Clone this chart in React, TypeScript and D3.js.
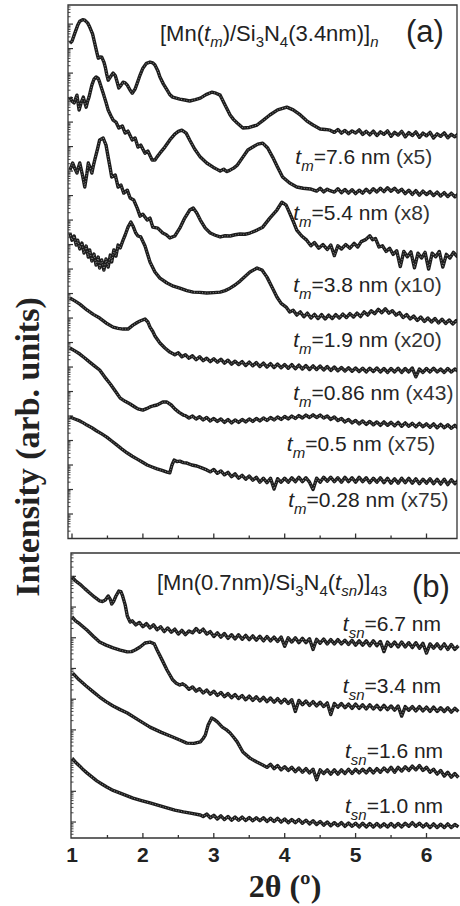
import * as d3 from 'd3';

type Pt = [number, number]; // [2θ (deg), log10 intensity (arb.)]

// panel (a): [Mn(tm)/Si3N4(3.4nm)]n
const tm76: Pt[] = [
  [0.97, 20.22], [1.0, 20.3], [1.04, 20.63], [1.08, 20.95], [1.11, 21.12], [1.15, 21.18], [1.18, 21.16], [1.22, 21.05],
  [1.25, 20.88], [1.29, 20.6], [1.32, 20.22], [1.35, 19.85], [1.37, 19.61], [1.4, 19.66], [1.42, 19.65], [1.45, 19.45],
  [1.47, 19.24], [1.49, 18.95], [1.51, 18.71], [1.55, 18.88], [1.58, 19.0], [1.61, 18.9], [1.63, 18.71], [1.66, 18.39],
  [1.69, 18.5], [1.72, 18.63], [1.75, 18.6], [1.78, 18.51], [1.82, 18.3], [1.85, 18.18], [1.89, 18.35], [1.92, 18.59],
  [1.96, 18.92], [2.0, 19.2], [2.05, 19.4], [2.1, 19.45], [2.14, 19.42], [2.17, 19.33], [2.21, 19.1], [2.24, 18.84],
  [2.29, 18.55], [2.34, 18.31], [2.38, 18.12], [2.42, 18.02], [2.47, 17.98], [2.52, 17.94], [2.59, 17.9], [2.66, 17.86],
  [2.74, 17.92], [2.81, 17.98], [2.89, 18.12], [2.97, 18.22], [3.03, 18.18], [3.09, 18.1], [3.16, 17.69], [3.23, 17.29],
  [3.28, 17.1], [3.33, 16.96], [3.41, 16.76], [3.5, 16.78], [3.61, 16.88], [3.7, 17.08], [3.79, 17.29], [3.9, 17.5],
  [4.03, 17.61], [4.12, 17.5], [4.22, 17.29], [4.31, 17.05], [4.4, 16.88], [4.5, 16.72], [4.57, 16.7], [4.64, 16.67],
  [4.7, 16.58], [4.75, 16.7], [4.8, 16.55], [4.85, 16.66], [4.9, 16.52], [4.95, 16.64], [5.0, 16.55], [5.05, 16.68],
  [5.1, 16.5], [5.15, 16.62], [5.2, 16.48], [5.25, 16.63], [5.3, 16.45], [5.35, 16.6], [5.4, 16.5], [5.45, 16.64],
  [5.5, 16.42], [5.55, 16.58], [5.6, 16.47], [5.65, 16.62], [5.7, 16.4], [5.75, 16.57], [5.8, 16.45], [5.85, 16.6],
  [5.9, 16.38], [5.95, 16.55], [6.0, 16.44], [6.05, 16.58], [6.1, 16.35], [6.15, 16.52], [6.2, 16.42], [6.25, 16.56],
  [6.3, 16.36], [6.35, 16.5], [6.4, 16.4], [6.45, 16.52],
];

const tm54: Pt[] = [
  [0.97, 18.02], [1.0, 17.85], [1.03, 17.78], [1.05, 17.95], [1.07, 18.1], [1.1, 17.49], [1.13, 17.8], [1.16, 18.02],
  [1.18, 17.8], [1.2, 17.61], [1.22, 17.85], [1.24, 18.02], [1.28, 18.51], [1.31, 18.75], [1.34, 18.84], [1.37, 18.78],
  [1.39, 18.63], [1.44, 18.18], [1.48, 17.8], [1.51, 17.49], [1.55, 17.25], [1.58, 17.08], [1.62, 17.0], [1.66, 16.76],
  [1.71, 16.84], [1.75, 16.55], [1.79, 16.63], [1.85, 16.27], [1.89, 16.35], [1.93, 15.98], [1.97, 16.06], [2.03, 15.73],
  [2.07, 15.82], [2.13, 15.45], [2.17, 15.45], [2.2, 15.58], [2.24, 15.73], [2.31, 15.98], [2.38, 16.27], [2.45, 16.51],
  [2.5, 16.62], [2.55, 16.67], [2.61, 16.55], [2.66, 16.27], [2.73, 15.9], [2.81, 15.57], [2.9, 15.33], [2.99, 15.16],
  [3.04, 15.08], [3.09, 15.0], [3.14, 15.08], [3.18, 14.98], [3.23, 15.04], [3.28, 15.12], [3.33, 15.24], [3.41, 15.57],
  [3.48, 15.86], [3.55, 15.98], [3.62, 16.1], [3.69, 16.14], [3.76, 15.94], [3.83, 15.57], [3.9, 15.16], [3.97, 14.76],
  [4.07, 14.51], [4.17, 14.35], [4.26, 14.3], [4.36, 14.27], [4.45, 14.18], [4.5, 14.3], [4.55, 14.15], [4.6, 14.26],
  [4.64, 14.2], [4.7, 14.14], [4.75, 14.28], [4.8, 14.12], [4.85, 14.25], [4.9, 14.1], [4.95, 14.24], [5.0, 14.08],
  [5.05, 14.22], [5.1, 14.1], [5.15, 14.26], [5.2, 14.12], [5.25, 14.28], [5.3, 14.15], [5.35, 14.3], [5.4, 14.16],
  [5.45, 14.32], [5.5, 14.18], [5.55, 14.3], [5.6, 14.14], [5.65, 14.26], [5.7, 14.08], [5.75, 14.22], [5.8, 14.05],
  [5.85, 14.2], [5.9, 14.02], [5.95, 14.18], [6.0, 14.04], [6.05, 14.16], [6.1, 14.0], [6.15, 14.14], [6.2, 13.98],
  [6.25, 14.12], [6.3, 13.96], [6.35, 14.1], [6.4, 13.95], [6.45, 14.06],
];

const tm38: Pt[] = [
  [0.97, 15.04], [1.01, 15.33], [1.04, 15.1], [1.07, 14.92], [1.09, 15.15], [1.11, 15.33], [1.15, 14.8], [1.18, 14.35],
  [1.21, 14.9], [1.23, 15.33], [1.26, 15.1], [1.28, 14.92], [1.3, 15.2], [1.32, 15.45], [1.36, 15.9], [1.39, 16.27],
  [1.44, 16.35], [1.48, 16.06], [1.51, 15.57], [1.54, 15.1], [1.56, 14.76], [1.61, 14.84], [1.65, 14.35], [1.69, 14.43],
  [1.73, 14.1], [1.78, 14.22], [1.82, 13.9], [1.87, 13.82], [1.92, 13.49], [1.96, 13.16], [2.0, 13.24], [2.06, 13.0],
  [2.1, 13.08], [2.14, 12.71], [2.21, 12.67], [2.28, 12.47], [2.33, 12.4], [2.38, 12.27], [2.45, 12.35], [2.52, 12.67],
  [2.59, 13.08], [2.66, 13.41], [2.71, 13.49], [2.76, 13.29], [2.81, 13.0], [2.88, 12.67], [2.95, 12.47], [3.02, 12.38],
  [3.09, 12.31], [3.16, 12.36], [3.23, 12.35], [3.3, 12.4], [3.37, 12.43], [3.44, 12.42], [3.51, 12.47], [3.61, 12.59],
  [3.69, 12.71], [3.79, 13.08], [3.89, 13.41], [3.96, 13.73], [4.02, 13.61], [4.07, 13.29], [4.12, 12.95], [4.17, 12.59],
  [4.24, 12.35], [4.31, 12.18], [4.37, 11.95], [4.42, 12.08], [4.48, 11.85], [4.54, 12.0], [4.6, 11.8], [4.65, 11.98],
  [4.7, 11.55], [4.75, 11.95], [4.8, 11.82], [4.86, 12.0], [4.92, 11.85], [4.98, 12.05], [5.03, 11.9], [5.08, 12.12],
  [5.14, 12.2], [5.2, 12.36], [5.24, 12.2], [5.28, 12.25], [5.33, 11.9], [5.38, 11.95], [5.43, 11.72], [5.48, 11.85],
  [5.53, 11.6], [5.58, 11.75], [5.63, 11.1], [5.68, 11.72], [5.73, 11.5], [5.78, 11.7], [5.83, 11.05], [5.88, 11.65],
  [5.93, 11.45], [5.98, 11.68], [6.03, 11.0], [6.08, 11.65], [6.13, 11.5], [6.18, 11.72], [6.23, 11.08], [6.28, 11.6],
  [6.33, 11.45], [6.38, 11.68], [6.43, 11.52], [6.47, 11.62],
];

const tm19: Pt[] = [
  [0.97, 12.47], [1.0, 12.18], [1.03, 12.35], [1.06, 11.98], [1.08, 12.18], [1.11, 11.82], [1.14, 12.06], [1.17, 11.65],
  [1.2, 11.94], [1.23, 11.49], [1.25, 11.78], [1.28, 11.33], [1.31, 11.61], [1.34, 11.16], [1.37, 11.49], [1.39, 11.04],
  [1.42, 11.37], [1.45, 10.96], [1.48, 11.41], [1.51, 11.08], [1.54, 11.57], [1.56, 11.29], [1.59, 11.78], [1.62, 11.53],
  [1.65, 11.98], [1.68, 11.86], [1.72, 12.18], [1.75, 12.39], [1.79, 12.71], [1.83, 12.92], [1.86, 12.76], [1.9, 12.47],
  [1.93, 12.35], [1.97, 12.31], [2.03, 11.94], [2.1, 11.29], [2.17, 10.88], [2.24, 10.63], [2.34, 10.43], [2.43, 10.3],
  [2.52, 10.22], [2.62, 10.12], [2.71, 10.06], [2.8, 10.05], [2.9, 10.02], [3.0, 10.04], [3.09, 10.06], [3.16, 10.12],
  [3.23, 10.22], [3.3, 10.35], [3.37, 10.51], [3.44, 10.7], [3.51, 10.88], [3.61, 11.04], [3.68, 10.96], [3.75, 10.67],
  [3.82, 10.27], [3.89, 9.86], [3.95, 9.6], [4.02, 9.45], [4.07, 9.25], [4.12, 9.32], [4.17, 9.12], [4.22, 9.25],
  [4.27, 9.05], [4.32, 9.2], [4.37, 9.0], [4.42, 9.15], [4.47, 8.98], [4.52, 9.14], [4.57, 8.96], [4.62, 9.12],
  [4.67, 8.98], [4.72, 9.14], [4.77, 9.0], [4.82, 9.16], [4.87, 9.02], [4.92, 9.18], [4.97, 9.04], [5.02, 9.2],
  [5.07, 9.06], [5.12, 9.25], [5.17, 9.12], [5.22, 9.3], [5.27, 9.18], [5.32, 9.36], [5.37, 9.22], [5.42, 9.38],
  [5.47, 9.2], [5.52, 9.3], [5.57, 9.12], [5.62, 9.22], [5.67, 9.02], [5.72, 9.14], [5.77, 8.96], [5.82, 9.08],
  [5.87, 8.9], [5.92, 9.04], [5.97, 8.86], [6.02, 9.0], [6.07, 8.84], [6.12, 8.98], [6.17, 8.8], [6.22, 8.95],
  [6.27, 8.78], [6.32, 8.92], [6.37, 8.76], [6.42, 8.9], [6.47, 8.8],
];

const tm086: Pt[] = [
  [0.97, 9.82], [1.04, 9.7], [1.11, 9.57], [1.21, 9.33], [1.3, 9.15], [1.39, 9.0], [1.48, 8.8], [1.58, 8.63],
  [1.65, 8.58], [1.72, 8.55], [1.79, 8.55], [1.86, 8.71], [1.92, 8.82], [1.96, 8.88], [2.03, 8.96], [2.07, 8.84],
  [2.1, 8.63], [2.14, 8.45], [2.17, 8.27], [2.24, 7.98], [2.31, 7.78], [2.38, 7.61], [2.45, 7.5], [2.5, 7.58],
  [2.55, 7.42], [2.6, 7.5], [2.65, 7.36], [2.7, 7.46], [2.75, 7.3], [2.8, 7.42], [2.85, 7.26], [2.9, 7.36],
  [2.95, 7.22], [3.0, 7.34], [3.05, 7.2], [3.1, 7.32], [3.15, 7.16], [3.2, 7.28], [3.25, 7.12], [3.3, 7.24],
  [3.35, 7.1], [3.4, 7.22], [3.45, 7.06], [3.5, 7.2], [3.55, 7.05], [3.6, 7.18], [3.65, 7.02], [3.7, 7.16],
  [3.75, 7.0], [3.8, 7.14], [3.85, 6.98], [3.9, 7.12], [3.95, 6.97], [4.0, 7.1], [4.05, 6.95], [4.1, 7.1],
  [4.15, 6.93], [4.2, 7.08], [4.25, 6.92], [4.3, 7.06], [4.35, 6.9], [4.4, 7.05], [4.45, 6.9], [4.5, 7.04],
  [4.55, 6.88], [4.6, 7.02], [4.65, 6.86], [4.7, 7.0], [4.75, 6.85], [4.8, 6.98], [4.85, 6.84], [4.9, 6.97],
  [4.95, 6.83], [5.0, 6.96], [5.05, 6.82], [5.1, 6.95], [5.15, 6.8], [5.2, 6.95], [5.25, 6.82], [5.3, 6.96],
  [5.35, 6.8], [5.4, 6.94], [5.45, 6.78], [5.5, 6.94], [5.55, 6.8], [5.6, 6.95], [5.65, 6.78], [5.7, 6.94],
  [5.75, 6.8], [5.8, 6.96], [5.85, 6.6], [5.9, 6.92], [5.95, 6.78], [6.0, 6.94], [6.05, 6.8], [6.1, 6.95],
  [6.15, 6.8], [6.2, 6.92], [6.25, 6.78], [6.3, 6.94], [6.35, 6.8], [6.4, 6.92], [6.45, 6.82],
];

const tm05: Pt[] = [
  [0.97, 7.78], [1.04, 7.66], [1.11, 7.53], [1.18, 7.37], [1.25, 7.2], [1.32, 7.04], [1.39, 6.88], [1.46, 6.6],
  [1.54, 6.31], [1.61, 6.02], [1.68, 5.73], [1.75, 5.6], [1.82, 5.49], [1.88, 5.38], [1.93, 5.29], [2.0, 5.24],
  [2.05, 5.3], [2.1, 5.37], [2.15, 5.42], [2.2, 5.45], [2.28, 5.57], [2.34, 5.57], [2.4, 5.45], [2.45, 5.29],
  [2.51, 5.15], [2.57, 5.04], [2.6, 5.02], [2.65, 4.92], [2.7, 5.0], [2.75, 4.88], [2.8, 4.97], [2.85, 4.84],
  [2.9, 4.94], [2.95, 4.8], [3.0, 4.9], [3.05, 4.78], [3.1, 4.88], [3.15, 4.74], [3.2, 4.86], [3.25, 4.72],
  [3.3, 4.84], [3.35, 4.74], [3.4, 4.86], [3.45, 4.76], [3.5, 4.88], [3.55, 4.78], [3.6, 4.9], [3.65, 4.8],
  [3.7, 4.92], [3.75, 4.82], [3.8, 4.94], [3.85, 4.84], [3.9, 4.96], [3.95, 4.86], [4.0, 4.98], [4.05, 4.88],
  [4.1, 5.0], [4.15, 4.9], [4.2, 5.02], [4.25, 4.92], [4.3, 5.04], [4.35, 4.94], [4.4, 5.05], [4.45, 4.94],
  [4.5, 5.04], [4.55, 4.92], [4.6, 5.0], [4.65, 4.86], [4.7, 4.96], [4.75, 4.82], [4.8, 4.9], [4.85, 4.76],
  [4.9, 4.86], [4.95, 4.72], [5.0, 4.82], [5.05, 4.68], [5.1, 4.8], [5.15, 4.66], [5.2, 4.78], [5.25, 4.64],
  [5.3, 4.76], [5.35, 4.62], [5.4, 4.76], [5.45, 4.62], [5.5, 4.74], [5.55, 4.6], [5.6, 4.74], [5.65, 4.58],
  [5.7, 4.72], [5.75, 4.58], [5.8, 4.7], [5.85, 4.56], [5.9, 4.7], [5.95, 4.56], [6.0, 4.68], [6.05, 4.54],
  [6.1, 4.68], [6.15, 4.52], [6.2, 4.66], [6.25, 4.52], [6.3, 4.64], [6.35, 4.5], [6.4, 4.62], [6.45, 4.5],
];

const tm028: Pt[] = [
  [0.97, 4.96], [1.04, 4.88], [1.11, 4.8], [1.16, 4.72], [1.21, 4.63], [1.28, 4.52], [1.35, 4.39], [1.42, 4.27],
  [1.49, 4.14], [1.56, 3.98], [1.63, 3.82], [1.7, 3.66], [1.78, 3.49], [1.85, 3.36], [1.92, 3.24], [1.99, 3.12],
  [2.06, 3.0], [2.13, 2.92], [2.2, 2.84], [2.27, 2.78], [2.34, 2.71], [2.38, 2.68], [2.41, 3.0], [2.44, 3.2],
  [2.48, 3.14], [2.52, 3.16], [2.57, 3.1], [2.62, 3.08], [2.69, 3.0], [2.76, 2.96], [2.83, 2.88], [2.9, 2.8],
  [2.95, 2.72], [3.0, 2.82], [3.05, 2.66], [3.1, 2.76], [3.15, 2.6], [3.2, 2.7], [3.25, 2.52], [3.3, 2.64],
  [3.35, 2.46], [3.4, 2.58], [3.45, 2.42], [3.5, 2.55], [3.55, 2.38], [3.6, 2.5], [3.65, 2.3], [3.7, 2.46],
  [3.75, 2.28], [3.8, 2.46], [3.85, 2.02], [3.9, 2.44], [3.95, 2.3], [4.0, 2.46], [4.05, 2.3], [4.1, 2.48],
  [4.15, 2.32], [4.2, 2.5], [4.25, 2.32], [4.3, 2.48], [4.35, 2.3], [4.4, 2.0], [4.45, 2.46], [4.5, 2.3],
  [4.55, 2.5], [4.6, 2.34], [4.65, 2.5], [4.7, 2.32], [4.75, 2.48], [4.8, 2.3], [4.85, 2.5], [4.9, 2.32],
  [4.95, 2.48], [5.0, 2.3], [5.05, 2.5], [5.1, 2.32], [5.15, 2.48], [5.2, 2.28], [5.25, 2.46], [5.3, 2.3],
  [5.35, 2.48], [5.4, 2.28], [5.45, 2.46], [5.5, 2.26], [5.55, 2.44], [5.6, 2.26], [5.65, 2.46], [5.7, 2.28],
  [5.75, 2.46], [5.8, 2.26], [5.85, 2.44], [5.9, 2.24], [5.95, 2.42], [6.0, 2.26], [6.05, 2.44], [6.1, 2.24],
  [6.15, 2.42], [6.2, 2.22], [6.25, 2.42], [6.3, 2.2], [6.35, 2.4], [6.4, 2.24], [6.45, 2.38],
];

// panel (b): [Mn(0.7nm)/Si3N4(tsn)]43
const tsn67: Pt[] = [
  [1.0, 8.98], [1.05, 8.85], [1.11, 8.75], [1.18, 8.6], [1.25, 8.46], [1.32, 8.32], [1.39, 8.2], [1.43, 8.18],
  [1.47, 8.23], [1.51, 8.36], [1.54, 8.25], [1.56, 8.1], [1.59, 8.2], [1.62, 8.36], [1.66, 8.52], [1.69, 8.5],
  [1.71, 8.39], [1.75, 8.07], [1.78, 7.71], [1.82, 7.51], [1.85, 7.55], [1.9, 7.42], [1.95, 7.5], [2.0, 7.36],
  [2.05, 7.46], [2.1, 7.32], [2.15, 7.42], [2.2, 7.26], [2.25, 7.36], [2.3, 7.2], [2.35, 7.32], [2.4, 7.18],
  [2.45, 7.28], [2.5, 7.12], [2.55, 7.24], [2.6, 7.1], [2.65, 7.22], [2.7, 7.16], [2.75, 7.3], [2.8, 7.18],
  [2.85, 7.28], [2.9, 7.12], [2.95, 7.2], [3.0, 7.04], [3.05, 7.16], [3.1, 7.02], [3.15, 7.14], [3.2, 6.98],
  [3.25, 7.1], [3.3, 6.96], [3.35, 7.1], [3.4, 6.95], [3.45, 7.08], [3.5, 6.94], [3.55, 7.06], [3.6, 6.92],
  [3.65, 7.05], [3.7, 6.9], [3.75, 7.04], [3.8, 6.9], [3.85, 7.02], [3.9, 6.88], [3.95, 7.02], [4.0, 6.72],
  [4.05, 7.0], [4.1, 6.86], [4.15, 7.0], [4.2, 6.84], [4.25, 6.98], [4.3, 6.84], [4.35, 6.97], [4.4, 6.62],
  [4.45, 6.95], [4.5, 6.82], [4.55, 6.96], [4.6, 6.8], [4.65, 6.94], [4.7, 6.8], [4.75, 6.94], [4.8, 6.8],
  [4.85, 6.92], [4.9, 6.78], [4.95, 6.92], [5.0, 6.76], [5.05, 6.9], [5.1, 6.76], [5.15, 6.9], [5.2, 6.74],
  [5.25, 6.9], [5.3, 6.74], [5.35, 6.88], [5.4, 6.55], [5.45, 6.86], [5.5, 6.72], [5.55, 6.86], [5.6, 6.7],
  [5.65, 6.86], [5.7, 6.7], [5.75, 6.84], [5.8, 6.68], [5.85, 6.84], [5.9, 6.66], [5.95, 6.82], [6.0, 6.5],
  [6.05, 6.8], [6.1, 6.66], [6.15, 6.8], [6.2, 6.64], [6.25, 6.8], [6.3, 6.62], [6.35, 6.78], [6.4, 6.62],
  [6.45, 6.74],
];

const tsn34: Pt[] = [
  [1.0, 7.68], [1.05, 7.55], [1.11, 7.45], [1.21, 7.25], [1.3, 7.05], [1.39, 6.86], [1.48, 6.76], [1.58, 6.67],
  [1.68, 6.6], [1.78, 6.54], [1.84, 6.55], [1.89, 6.6], [1.96, 6.7], [2.03, 6.83], [2.1, 6.86], [2.16, 6.8],
  [2.2, 6.6], [2.27, 6.28], [2.34, 5.95], [2.42, 5.63], [2.47, 5.52], [2.52, 5.46], [2.56, 5.5], [2.6, 5.44],
  [2.65, 5.32], [2.7, 5.4], [2.75, 5.26], [2.8, 5.34], [2.85, 5.2], [2.9, 5.3], [2.95, 5.16], [3.0, 5.26],
  [3.05, 5.12], [3.1, 5.22], [3.15, 5.08], [3.2, 5.18], [3.25, 5.05], [3.3, 5.15], [3.35, 5.02], [3.4, 5.12],
  [3.45, 4.98], [3.5, 5.1], [3.55, 4.96], [3.6, 5.08], [3.65, 4.94], [3.7, 5.06], [3.75, 4.92], [3.8, 5.04],
  [3.85, 4.9], [3.9, 5.02], [3.95, 4.88], [4.0, 5.0], [4.05, 4.86], [4.1, 4.98], [4.15, 4.6], [4.2, 4.96],
  [4.25, 4.82], [4.3, 4.94], [4.35, 4.8], [4.4, 4.92], [4.45, 4.78], [4.5, 4.9], [4.55, 4.76], [4.6, 4.88],
  [4.65, 4.5], [4.7, 4.86], [4.75, 4.74], [4.8, 4.86], [4.85, 4.72], [4.9, 4.84], [4.95, 4.7], [5.0, 4.84],
  [5.05, 4.7], [5.1, 4.82], [5.15, 4.68], [5.2, 4.82], [5.25, 4.68], [5.3, 4.8], [5.35, 4.66], [5.4, 4.8],
  [5.45, 4.66], [5.5, 4.78], [5.55, 4.64], [5.6, 4.78], [5.65, 4.45], [5.7, 4.76], [5.75, 4.64], [5.8, 4.76],
  [5.85, 4.62], [5.9, 4.76], [5.95, 4.62], [6.0, 4.74], [6.05, 4.6], [6.1, 4.74], [6.15, 4.6], [6.2, 4.72],
  [6.25, 4.6], [6.3, 4.72], [6.35, 4.58], [6.4, 4.7], [6.45, 4.6],
];

const tsn16: Pt[] = [
  [1.01, 5.85], [1.1, 5.63], [1.2, 5.43], [1.3, 5.24], [1.39, 5.07], [1.48, 4.92], [1.58, 4.78], [1.68, 4.66],
  [1.78, 4.55], [1.94, 4.32], [2.1, 4.09], [2.26, 3.92], [2.42, 3.77], [2.52, 3.67], [2.62, 3.57], [2.72, 3.56],
  [2.81, 3.61], [2.85, 3.72], [2.88, 3.83], [2.92, 4.16], [2.97, 4.39], [3.0, 4.35], [3.05, 4.26], [3.12, 4.09],
  [3.18, 4.0], [3.23, 3.9], [3.28, 3.76], [3.33, 3.61], [3.41, 3.28], [3.51, 3.08], [3.6, 2.96], [3.69, 2.86],
  [3.75, 2.78], [3.8, 2.88], [3.85, 2.74], [3.9, 2.84], [3.95, 2.7], [4.0, 2.8], [4.05, 2.68], [4.1, 2.78],
  [4.15, 2.64], [4.2, 2.76], [4.25, 2.62], [4.3, 2.74], [4.35, 2.6], [4.4, 2.72], [4.45, 2.38], [4.5, 2.7],
  [4.55, 2.58], [4.6, 2.7], [4.65, 2.56], [4.7, 2.7], [4.75, 2.56], [4.8, 2.7], [4.85, 2.58], [4.9, 2.72],
  [4.95, 2.58], [5.0, 2.72], [5.05, 2.6], [5.1, 2.72], [5.15, 2.6], [5.2, 2.74], [5.25, 2.6], [5.3, 2.74],
  [5.35, 2.62], [5.4, 2.76], [5.45, 2.64], [5.5, 2.78], [5.55, 2.62], [5.6, 2.78], [5.65, 2.66], [5.7, 2.8],
  [5.75, 2.68], [5.8, 2.82], [5.85, 2.7], [5.9, 2.84], [5.95, 2.68], [6.0, 2.78], [6.05, 2.62], [6.1, 2.72],
  [6.15, 2.56], [6.2, 2.68], [6.25, 2.5], [6.3, 2.62], [6.35, 2.46], [6.4, 2.58], [6.45, 2.45],
];

const tsn10: Pt[] = [
  [1.0, 3.08], [1.05, 2.95], [1.11, 2.82], [1.16, 2.7], [1.21, 2.6], [1.28, 2.47], [1.35, 2.34], [1.42, 2.24],
  [1.49, 2.14], [1.58, 2.03], [1.68, 1.94], [1.77, 1.86], [1.86, 1.78], [1.98, 1.7], [2.1, 1.62], [2.22, 1.54],
  [2.34, 1.46], [2.45, 1.39], [2.57, 1.33], [2.69, 1.28], [2.81, 1.23], [2.85, 1.18], [2.9, 1.26], [2.95, 1.14],
  [3.0, 1.22], [3.05, 1.1], [3.1, 1.2], [3.15, 1.08], [3.2, 1.18], [3.25, 1.06], [3.3, 1.16], [3.35, 1.06],
  [3.4, 1.16], [3.45, 1.05], [3.5, 1.15], [3.55, 1.04], [3.6, 1.14], [3.65, 1.04], [3.7, 1.14], [3.75, 1.02],
  [3.8, 1.12], [3.85, 1.02], [3.9, 1.12], [3.95, 1.0], [4.0, 1.1], [4.05, 0.98], [4.1, 1.08], [4.15, 0.98],
  [4.2, 1.08], [4.25, 0.96], [4.3, 1.06], [4.35, 0.94], [4.4, 1.04], [4.45, 0.92], [4.5, 1.02], [4.55, 0.9],
  [4.6, 1.0], [4.65, 0.88], [4.7, 0.98], [4.75, 0.88], [4.8, 0.98], [4.85, 0.86], [4.9, 0.97], [4.95, 0.86],
  [5.0, 0.96], [5.05, 0.84], [5.1, 0.96], [5.15, 0.84], [5.2, 0.95], [5.25, 0.84], [5.3, 0.95], [5.35, 0.84],
  [5.4, 0.94], [5.45, 0.84], [5.5, 0.95], [5.55, 0.84], [5.6, 0.95], [5.65, 0.84], [5.7, 0.96], [5.75, 0.86],
  [5.8, 0.98], [5.85, 0.86], [5.9, 0.96], [5.95, 0.84], [6.0, 0.94], [6.05, 0.82], [6.1, 0.94], [6.15, 0.82],
  [6.2, 0.93], [6.25, 0.82], [6.3, 0.94], [6.35, 0.82], [6.4, 0.92], [6.45, 0.84],
];

const seriesA = [tm76, tm54, tm38, tm19, tm086, tm05, tm028];
const thickA = ['7.6', '5.4', '3.8', '1.9', '0.86', '0.5', '0.28'];
const factorA = ['(x5)', '(x8)', '(x10)', '(x20)', '(x43)', '(x75)', '(x75)'];
const seriesB = [tsn67, tsn34, tsn16, tsn10];
const thickB = ['6.7', '3.4', '1.6', '1.0'];
const xTicks = [1, 2, 3, 4, 5, 6];

// where each label sits, [2θ, log10 I]
const labelAtA: Pt[] = [[4.15, 15.29], [4.12, 13.0], [4.12, 10.06], [4.12, 7.82], [4.12, 5.65], [4.03, 3.57], [4.05, 1.29]];
const labelAtB: Pt[] = [[4.82, 7.22], [4.82, 5.2], [4.85, 3.08], [4.85, 1.29]];

const W = 460;
const H = 906;
const sans = '"Liberation Sans", Arial, Helvetica, sans-serif';
const serif = '"Liberation Serif", "Times New Roman", serif';
const ink = '#222';

const x = d3.scaleLinear().domain([1, 6]).range([72, 426.5]);
const yA = d3.scaleLog().domain([1, 10 ** 21.78]).range([538.5, 5]);
const yB = d3.scaleLog().domain([10 ** 0.48, 10 ** 9.76]).range([838, 553]);

const boxA = { l: 68, t: 5, r: 457, b: 538.5 };
const boxB = { l: 71, t: 553, r: 463, b: 838 };

function logTicks(y: d3.ScaleLogarithmic<number, number>) {
  const [lo, hi] = y.domain().map(Math.log10);
  const out: { v: number; major: boolean }[] = [];
  for (let d = Math.floor(lo); d <= Math.ceil(hi); d++) {
    for (let k = 1; k <= 9; k++) {
      const v = d + Math.log10(k);
      if (v > lo + 0.02 && v < hi - 0.02) out.push({ v: 10 ** v, major: k === 1 });
    }
  }
  return out;
}

function Curve({ data, y }: { data: Pt[]; y: d3.ScaleLogarithmic<number, number> }) {
  const line = d3.line<Pt>().x(d => x(d[0])).y(d => y(10 ** d[1]));
  const d = line(data) || '';
  return (
    <g fill="none">
      <path d={d} stroke="#1c1c1c" strokeWidth={3.4} strokeLinejoin="round" />
      <path d={d} stroke="#8e8e8e" strokeWidth={1.1} strokeDasharray="0 2.7" strokeLinecap="round" />
    </g>
  );
}

function Panel({ box, y, bottomLabels }: { box: typeof boxA; y: d3.ScaleLogarithmic<number, number>; bottomLabels: boolean }) {
  const yt = logTicks(y);
  const xt = d3.range(1, 6.6, 0.5).filter(v => x(v) > box.l + 2 && x(v) < box.r - 2);
  return (
    <g stroke="#333" strokeWidth={1.3} fill="none">
      <path d={`M${box.l},${box.t}H${box.r}V${box.b}H${box.l}Z`} />
      {yt.map((t, i) => (
        <line key={i} x1={box.l} x2={box.l + (t.major ? 5 : 2.5)} y1={y(t.v)} y2={y(t.v)} strokeWidth={t.major ? 1.2 : 0.9} />
      ))}
      {xt.map((v, i) => (
        <line key={i} x1={x(v)} x2={x(v)} y1={box.b} y2={box.b - (Number.isInteger(v) ? 5 : 3)} />
      ))}
      {bottomLabels && xTicks.map(v => (
        <text key={v} x={x(v)} y={box.b + 24} textAnchor="middle" fontFamily={sans} fontWeight="bold"
          fontSize={21} fill={ink} stroke="none">{v}</text>
      ))}
    </g>
  );
}

export default function App() {
  return (
    <>
      <style>{'body{margin:0}'}</style>
      <svg width={W} height={H} style={{ display: 'block', background: '#fff' }}>
        <defs>
          <clipPath id="clipA"><rect x={boxA.l} y={boxA.t} width={boxA.r - boxA.l} height={boxA.b - boxA.t} /></clipPath>
          <clipPath id="clipB"><rect x={boxB.l} y={boxB.t} width={boxB.r - boxB.l} height={boxB.b - boxB.t} /></clipPath>
        </defs>

        <Panel box={boxA} y={yA} bottomLabels={false} />
        <Panel box={boxB} y={yB} bottomLabels={true} />

        <g clipPath="url(#clipA)">
          {seriesA.map((s, i) => <Curve key={i} data={s} y={yA} />)}
        </g>
        <g clipPath="url(#clipB)">
          {seriesB.map((s, i) => <Curve key={i} data={s} y={yB} />)}
        </g>

        <g fontFamily={sans} fill={ink}>
          <text x={160} y={41} fontSize={22}>
            [Mn(<tspan fontStyle="italic">t</tspan>
            <tspan fontStyle="italic" fontSize={15} dy={6}>m</tspan>
            <tspan dy={-6}>)/Si</tspan>
            <tspan fontSize={15} dy={6}>3</tspan>
            <tspan dy={-6}>N</tspan>
            <tspan fontSize={15} dy={6}>4</tspan>
            <tspan dy={-6}>(3.4nm)]</tspan>
            <tspan fontStyle="italic" fontSize={15} dy={6}>n</tspan>
          </text>
          <text x={406} y={42} fontSize={31}>(a)</text>

          <text x={157} y={590} fontSize={22}>
            [Mn(0.7nm)/Si<tspan fontSize={15} dy={6}>3</tspan>
            <tspan dy={-6}>N</tspan>
            <tspan fontSize={15} dy={6}>4</tspan>
            <tspan dy={-6}>(</tspan>
            <tspan fontStyle="italic">t</tspan>
            <tspan fontStyle="italic" fontSize={15} dy={6}>sn</tspan>
            <tspan dy={-6}>)]</tspan>
            <tspan fontSize={15} dy={6}>43</tspan>
          </text>
          <text x={412} y={597} fontSize={31}>(b)</text>

          {labelAtA.map((p, i) => (
            <text key={i} x={x(p[0])} y={yA(10 ** p[1])} fontSize={21}>
              <tspan fontStyle="italic">t</tspan>
              <tspan fontStyle="italic" fontSize={15} dy={7}>m</tspan>
              <tspan dy={-7}>={thickA[i]} nm </tspan>
              <tspan fill="#333">{factorA[i]}</tspan>
            </text>
          ))}
          {labelAtB.map((p, i) => (
            <text key={i} x={x(p[0])} y={yB(10 ** p[1])} fontSize={21}>
              <tspan fontStyle="italic">t</tspan>
              <tspan fontStyle="italic" fontSize={15} dy={7}>sn</tspan>
              <tspan dy={-7}>={thickB[i]} nm</tspan>
            </text>
          ))}
        </g>

        <text transform="translate(39,447) rotate(-90)" textAnchor="middle" fontFamily={serif}
          fontWeight="bold" fontSize={34} fill={ink}>Intensity (arb. units)</text>
        <text x={285} y={897} textAnchor="middle" fontFamily={serif} fontWeight="bold" fontSize={32} fill={ink}>
          2θ (º)
        </text>
      </svg>
    </>
  );
}
